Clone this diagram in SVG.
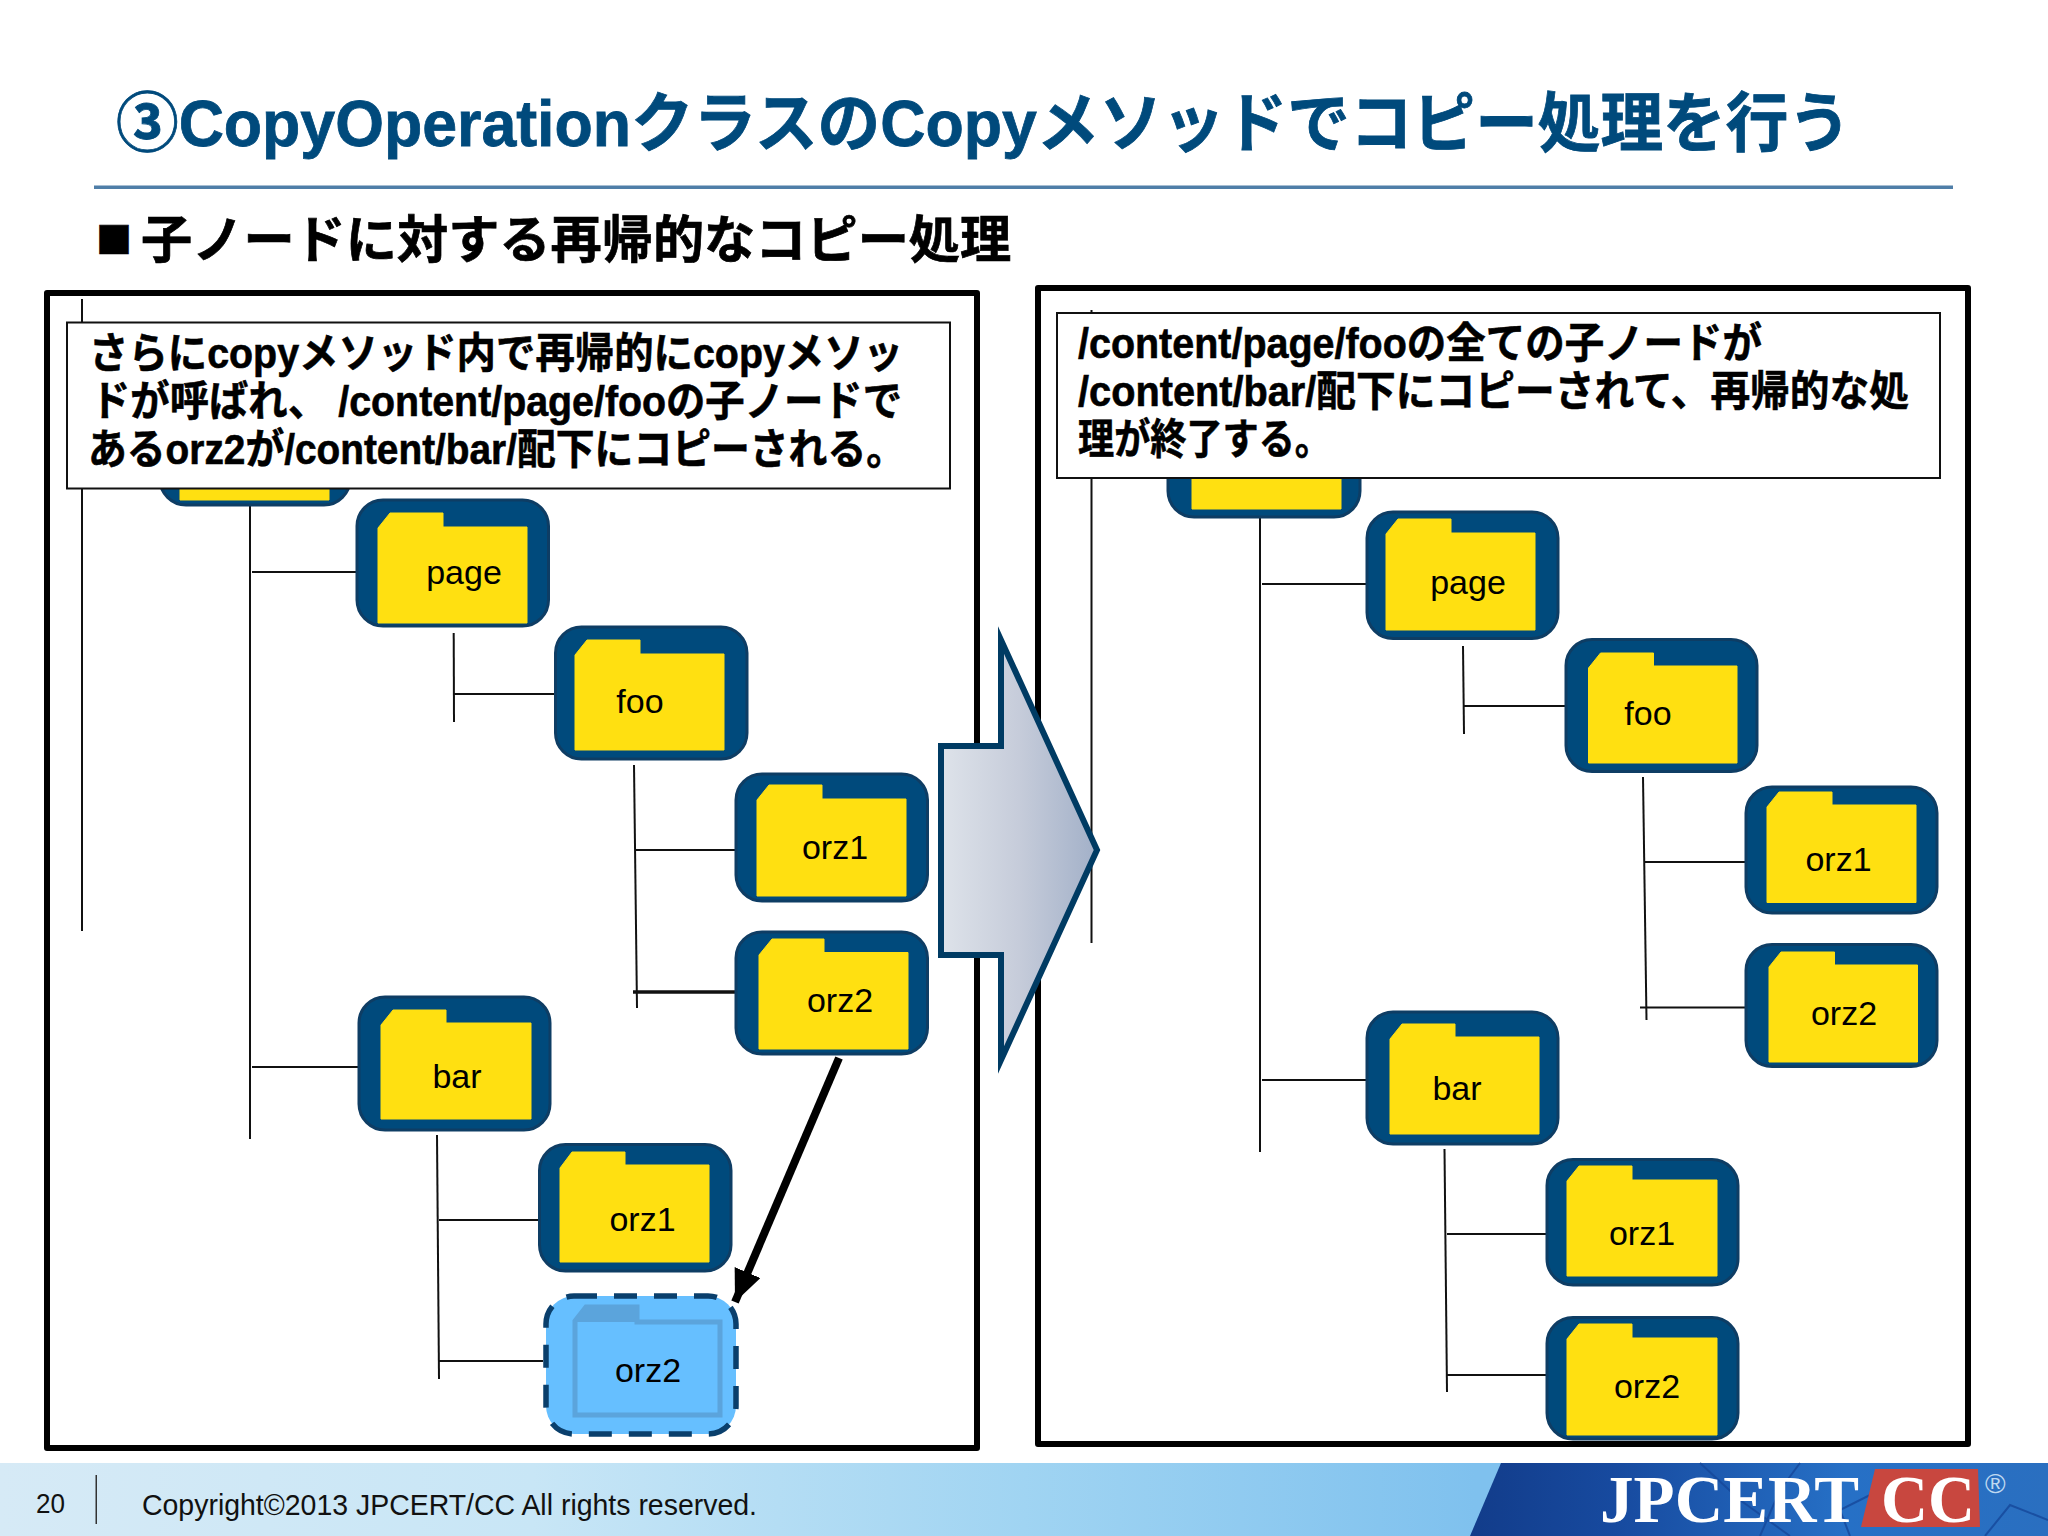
<svg xmlns="http://www.w3.org/2000/svg" width="2048" height="1536" viewBox="0 0 2048 1536">
<defs>
<linearGradient id="arrowFill" x1="0" y1="0" x2="1" y2="0"><stop offset="0" stop-color="#DEE3EA"/><stop offset="0.5" stop-color="#C6CCDA"/><stop offset="1" stop-color="#A2B0C8"/></linearGradient>
<linearGradient id="footFill" x1="0" y1="0" x2="1" y2="0"><stop offset="0" stop-color="#D6EAF6"/><stop offset="0.26" stop-color="#C8E6F6"/><stop offset="0.5" stop-color="#A0D4F2"/><stop offset="0.72" stop-color="#7FC1EE"/><stop offset="1" stop-color="#7FC1EE"/></linearGradient>
<linearGradient id="logoFill" x1="0" y1="0" x2="1" y2="0"><stop offset="0" stop-color="#123C8A"/><stop offset="0.25" stop-color="#174A9F"/><stop offset="0.65" stop-color="#2670C6"/><stop offset="1" stop-color="#2A6FC0"/></linearGradient>
<marker id="head" markerUnits="userSpaceOnUse" markerWidth="36" markerHeight="36" refX="32" refY="14" orient="auto"><path d="M0,0 L32,14 L0,28 Z" fill="#000"/></marker>
</defs>
<style>
text{font-family:"Liberation Sans","Noto Sans CJK JP",sans-serif;fill:#000}
.b{font-weight:700}
.frame{fill:#fff;stroke:#000;stroke-width:6;stroke-linejoin:round}
.call{fill:#fff;stroke:#111;stroke-width:2}
.box{fill:#004A7C;stroke:#0E3D64;stroke-width:3}
.fold{fill:#FFE011;stroke:#FFE011;stroke-width:1;stroke-linejoin:round}
.lbl{font-size:34px;text-anchor:middle}
.c1 line{stroke:#111;stroke-width:2}
.cap{font-size:42px;font-weight:700;stroke:#000;stroke-width:.6}
</style>
<rect width="2048" height="1536" fill="#fff"/>
<text class="b" x="116" y="145.500" font-size="65" textLength="1735" lengthAdjust="spacingAndGlyphs" style="fill:#004A7C;stroke:#004A7C;stroke-width:.8">③CopyOperationクラスのCopyメソッドでコピー処理を行う</text>
<rect x="94" y="185.500" width="1859" height="3.500" fill="#4F7EA8"/>
<text class="b" x="96" y="258" font-size="51.200" style="stroke:#000;stroke-width:.7"><tspan y="254" font-size="36" style="font-family:'Noto Sans CJK JP',sans-serif">■</tspan><tspan y="258" dx="9">子ノードに対する再帰的なコピー処理</tspan></text>
<g id="frames">
<rect class="frame" x="47" y="293" width="930" height="1155"/>
<rect class="frame" x="1038" y="288" width="930" height="1156"/>
</g>
<g id="connectors" class="c1">
<line x1="82" y1="299" x2="82" y2="931"/><line x1="250" y1="505" x2="250" y2="1139"/>
<line x1="252" y1="572" x2="357" y2="572"/><line x1="252" y1="1067" x2="358" y2="1067"/>
<line x1="453.700" y1="633" x2="454" y2="722"/><line x1="454" y1="694" x2="555" y2="694"/>
<line x1="634" y1="765" x2="637" y2="1008"/><line x1="635" y1="850" x2="735" y2="850"/>
<line x1="633" y1="992" x2="735" y2="992" style="stroke-width:3.500"/>
<line x1="437" y1="1135" x2="439" y2="1379"/><line x1="439" y1="1220" x2="538" y2="1220"/><line x1="439" y1="1361" x2="543" y2="1361"/>
<line x1="1091.500" y1="310" x2="1091.500" y2="943"/><line x1="1260" y1="517" x2="1260" y2="1152"/>
<line x1="1262" y1="584" x2="1366" y2="584"/><line x1="1262" y1="1080" x2="1366" y2="1080"/>
<line x1="1463" y1="646" x2="1464" y2="734"/><line x1="1464" y1="706" x2="1565" y2="706"/>
<line x1="1643" y1="777" x2="1646.500" y2="1020"/><line x1="1645" y1="862" x2="1745" y2="862"/><line x1="1640" y1="1007.500" x2="1745" y2="1007.500"/>
<line x1="1444.500" y1="1149" x2="1447" y2="1392"/><line x1="1447" y1="1234" x2="1546" y2="1234"/><line x1="1447" y1="1375" x2="1546" y2="1375"/>
<line x1="839" y1="1058" x2="735" y2="1302" style="stroke:#000;stroke-width:8" marker-end="url(#head)"/>
</g>
<g id="node-l-content"><rect class="box" x="160" y="378" width="190" height="127" rx="26"/><path class="fold" d="M180,402 L192,387 L245,387 L245,400 L329,400 L329,500 L180,500 Z"/></g>
<g id="node-l-page"><rect class="box" x="357" y="500" width="191.500" height="126" rx="26"/><path class="fold" d="M378,528 L390,513 L443,513 L443,527 L527,527 L527,623 L378,623 Z"/><text class="lbl" x="464" y="584">page</text></g>
<g id="node-l-foo"><rect class="box" x="555.500" y="627" width="191.500" height="132" rx="26"/><path class="fold" d="M575,655 L587,640 L640,640 L640,654 L724,654 L724,750 L575,750 Z"/><text class="lbl" x="640" y="713">foo</text></g>
<g id="node-l-orz1"><rect class="box" x="736" y="774" width="191.500" height="127" rx="26"/><path class="fold" d="M757,800 L769,785 L822,785 L822,799 L906,799 L906,896 L757,896 Z"/><text class="lbl" x="835" y="859">orz1</text></g>
<g id="node-l-orz2"><rect class="box" x="736" y="932" width="191.500" height="122" rx="26"/><path class="fold" d="M759,955 L772,939 L824,939 L824,952.500 L908,952.500 L908,1049 L759,1049 Z"/><text class="lbl" x="840" y="1012">orz2</text></g>
<g id="node-l-bar"><rect class="box" x="359" y="997" width="191" height="133" rx="26"/><path class="fold" d="M381,1025 L393,1010 L446,1010 L446,1023 L531,1023 L531,1119 L381,1119 Z"/><text class="lbl" x="457" y="1088">bar</text></g>
<g id="node-l-bar-orz1"><rect class="box" x="539.500" y="1144.500" width="191.500" height="126.500" rx="26"/><path class="fold" d="M560,1168 L572,1152 L625,1152 L625,1165 L709,1165 L709,1262 L560,1262 Z"/><text class="lbl" x="642.500" y="1231">orz1</text></g>
<g id="node-l-bar-orz2">
<rect x="546" y="1296" width="190" height="138" rx="28" fill="#66BFFF" stroke="#0A3F6C" stroke-width="5.500" stroke-dasharray="23 17"/>
<path d="M575,1321 L586,1307 L637,1307 L637,1322 L720,1322 L720,1415 L575,1415 Z" fill="#66BFFF" stroke="#5BA4DC" stroke-width="5"/>
<path d="M575,1321 L586,1307 L637,1307 L637,1322 L575,1322 Z" fill="#5BA4DC"/>
<text class="lbl" x="648" y="1382">orz2</text></g>
<g id="node-r-content"><rect class="box" x="1168" y="390" width="192" height="127" rx="26"/><path class="fold" d="M1192,412 L1204,399 L1257,399 L1257,412 L1341,412 L1341,509 L1192,509 Z"/></g>
<g id="node-r-page"><rect class="box" x="1367" y="512" width="191" height="126.500" rx="26"/><path class="fold" d="M1386,534 L1398,519 L1451,519 L1451,533 L1535,533 L1535,630 L1386,630 Z"/><text class="lbl" x="1468" y="594">page</text></g>
<g id="node-r-foo"><rect class="box" x="1566" y="639.500" width="191" height="132" rx="26"/><path class="fold" d="M1588.500,668 L1600.500,653 L1653.500,653 L1653.500,666 L1737,666 L1737,763 L1588.500,763 Z"/><text class="lbl" x="1648" y="725">foo</text></g>
<g id="node-r-orz1"><rect class="box" x="1746" y="787" width="191" height="126" rx="26"/><path class="fold" d="M1767,807 L1779,792 L1832,792 L1832,805 L1916,805 L1916,902.500 L1767,902.500 Z"/><text class="lbl" x="1838.500" y="871">orz1</text></g>
<g id="node-r-orz2"><rect class="box" x="1746" y="944.500" width="191" height="122" rx="26"/><path class="fold" d="M1769,967 L1781,952 L1834.500,952 L1834.500,965 L1917.500,965 L1917.500,1062 L1769,1062 Z"/><text class="lbl" x="1844" y="1025">orz2</text></g>
<g id="node-r-bar"><rect class="box" x="1367" y="1012" width="191" height="132" rx="26"/><path class="fold" d="M1390,1039 L1402,1024 L1455,1024 L1455,1037 L1539,1037 L1539,1134 L1390,1134 Z"/><text class="lbl" x="1457" y="1100">bar</text></g>
<g id="node-r-bar-orz1"><rect class="box" x="1547" y="1159.500" width="191" height="125.500" rx="26"/><path class="fold" d="M1567,1181 L1579,1166 L1632,1166 L1632,1180 L1717,1180 L1717,1276 L1567,1276 Z"/><text class="lbl" x="1642" y="1244.500">orz1</text></g>
<g id="node-r-bar-orz2"><rect class="box" x="1547" y="1317.500" width="191" height="121.500" rx="26"/><path class="fold" d="M1567,1339 L1579,1324 L1632,1324 L1632,1338 L1717,1338 L1717,1435 L1567,1435 Z"/><text class="lbl" x="1647" y="1398">orz2</text></g>
<g id="callout-left">
<rect class="call" x="67" y="322.500" width="883" height="166"/>
<text class="cap" x="89" y="368" textLength="814" lengthAdjust="spacingAndGlyphs">さらにcopyメソッド内で再帰的にcopyメソッ</text>
<text class="cap" x="91" y="416" textLength="811" lengthAdjust="spacingAndGlyphs">ドが呼ばれ、 /content/page/fooの子ノードで</text>
<text class="cap" x="88" y="464" textLength="817" lengthAdjust="spacingAndGlyphs">あるorz2が/content/bar/配下にコピーされる。</text>
</g>
<g id="callout-right">
<rect class="call" x="1057" y="313" width="883" height="165"/>
<text class="cap" x="1078" y="358" textLength="684" lengthAdjust="spacingAndGlyphs">/content/page/fooの全ての子ノードが</text>
<text class="cap" x="1078" y="406" textLength="831" lengthAdjust="spacingAndGlyphs">/content/bar/配下にコピーされて、再帰的な処</text>
<text class="cap" x="1078" y="454" textLength="253" lengthAdjust="spacingAndGlyphs">理が終了する。</text>
</g>
<g id="big-arrow"><path d="M941,746 L1001,746 L1001,640 L1097,850 L1001,1060 L1001,955 L941,955 Z" fill="url(#arrowFill)" stroke="#003B63" stroke-width="6" stroke-miterlimit="10"/></g>
<g id="footer">
<rect y="1463" width="2048" height="73" fill="url(#footFill)"/>
<path d="M1501,1463 L2048,1463 L2048,1536 L1470,1536 Z" fill="url(#logoFill)"/>
<path d="M1700,1463 L1740,1500 L1790,1536 M1760,1536 L1780,1490 L1800,1463 M1850,1536 L1840,1510 L1900,1480 M1985,1536 L2010,1505 L2048,1520" fill="none" stroke="#15479A" stroke-width="2" opacity="0.8"/>
<path d="M1875,1469 L1978,1469 L1980,1527 L1861,1527 Z" fill="#C8473F"/>
<text x="1600" y="1522" font-size="67" font-weight="700" textLength="259" lengthAdjust="spacingAndGlyphs" style="font-family:'Liberation Serif',serif;fill:#fff">JPCERT</text>
<text x="1881" y="1522" font-size="67" font-weight="700" textLength="94" lengthAdjust="spacingAndGlyphs" style="font-family:'Liberation Serif',serif;fill:#fff">CC</text>
<text x="1985" y="1493" font-size="28" style="fill:#BFD8F0">®</text>
<text x="36" y="1513" font-size="27" textLength="29" lengthAdjust="spacingAndGlyphs" style="fill:#111">20</text>
<rect x="95.500" y="1475" width="1.500" height="49" fill="#333"/>
<text x="142" y="1515" font-size="29" textLength="615" lengthAdjust="spacingAndGlyphs" style="fill:#111">Copyright©2013 JPCERT/CC All rights reserved.</text>
</g>
</svg>
